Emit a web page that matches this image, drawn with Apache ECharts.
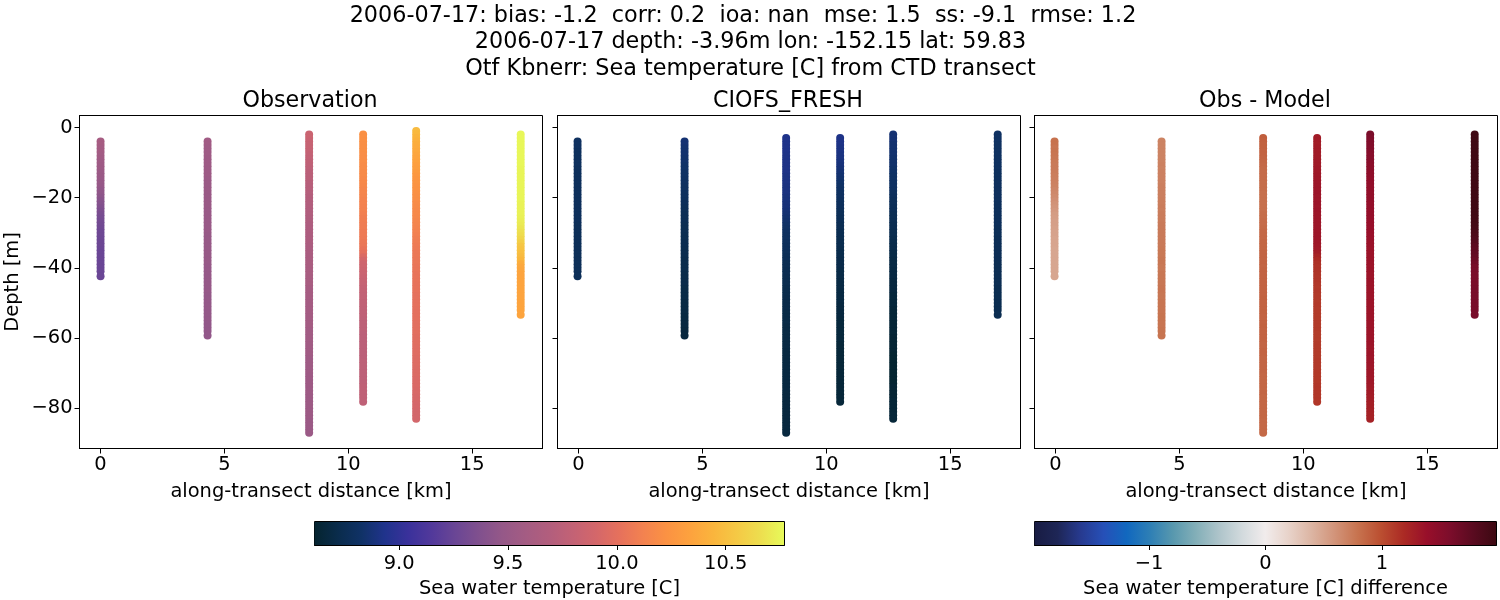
<!DOCTYPE html>
<html>
<head>
<meta charset="utf-8">
<title>CTD transect</title>
<script src="https://cdn.jsdelivr.net/npm/echarts@6/dist/echarts.min.js"></script>
<style>
  html, body { margin: 0; padding: 0; background: #fff; }
  #chart { width: 1500px; height: 600px; }
</style>
</head>
<body>
<div id="chart"></div>
<script>
// along-transect distance of each cast [km]
var obsKm = [0, 4.32, 8.42, 10.6, 12.74, 16.96];
var modelKm = [-0.04, 4.28, 8.38, 10.56, 12.7, 16.92];

// depth levels [m], one every metre
var depthLevels = [
  -1,-2,-3,-4,-5,-6,-7,-8,-9,-10,-11,-12,-13,-14,-15,-16,-17,-18,-19,-20,
  -21,-22,-23,-24,-25,-26,-27,-28,-29,-30,-31,-32,-33,-34,-35,-36,-37,-38,-39,-40,
  -41,-42,-43,-44,-45,-46,-47,-48,-49,-50,-51,-52,-53,-54,-55,-56,-57,-58,-59,-60,
  -61,-62,-63,-64,-65,-66,-67,-68,-69,-70,-71,-72,-73,-74,-75,-76,-77,-78,-79,-80,
  -81,-82,-83,-84,-85,-86,-87
];
// first level (1 = -1 m) of each cast
var obsTop = [4, 4, 2, 2, 1, 2];
var modelTop = [4, 4, 3, 3, 2, 2];
// the deepest sample of each cast is not on a whole metre
var castBottom = [-42.4, -59.3, -87, -78.2, -83, -53.4];

var obs0 = [
  9.60,9.60,9.58,9.58,9.57,9.56,9.55,9.54,9.53,9.52,
  9.51,9.50,9.49,9.48,9.46,9.45,9.43,9.41,9.39,9.37,
  9.35,9.33,9.32,9.31,9.30,9.29,9.28,9.28,9.27,9.27,
  9.27,9.26,9.26,9.26,9.26,9.26,9.26,9.26,9.26
];
var obs1 = [
  9.56,9.56,9.55,9.55,9.55,9.54,9.54,9.54,9.53,9.53,
  9.53,9.52,9.52,9.52,9.52,9.51,9.51,9.51,9.51,9.51,
  9.50,9.50,9.50,9.50,9.50,9.50,9.50,9.49,9.49,9.49,
  9.49,9.49,9.49,9.49,9.49,9.49,9.48,9.48,9.48,9.48,
  9.48,9.48,9.48,9.48,9.47,9.47,9.47,9.47,9.47,9.47,
  9.47,9.47,9.46,9.46,9.46,9.46
];
var obs2 = [
  9.84,9.84,9.83,9.82,9.82,9.81,9.80,9.79,9.78,9.77,
  9.76,9.75,9.74,9.74,9.73,9.72,9.72,9.71,9.70,9.70,
  9.69,9.69,9.68,9.68,9.67,9.67,9.66,9.66,9.66,9.65,
  9.65,9.65,9.64,9.64,9.64,9.63,9.63,9.63,9.62,9.62,
  9.62,9.61,9.61,9.61,9.60,9.60,9.60,9.60,9.59,9.59,
  9.59,9.59,9.58,9.58,9.58,9.58,9.57,9.57,9.57,9.57,
  9.56,9.56,9.56,9.56,9.55,9.55,9.55,9.55,9.55,9.54,
  9.54,9.54,9.54,9.54,9.54,9.53,9.53,9.53,9.53,9.53,
  9.53,9.53,9.52,9.52,9.52,9.52
];
var obs3 = [
  10.22,10.22,10.22,10.21,10.21,10.21,10.20,10.20,10.20,10.19,
  10.19,10.18,10.18,10.17,10.17,10.16,10.15,10.15,10.14,10.13,
  10.13,10.12,10.12,10.11,10.10,10.10,10.09,10.09,10.08,10.08,
  10.07,10.06,10.05,10.03,10.00,9.95,9.90,9.87,9.86,9.85,
  9.84,9.83,9.82,9.81,9.80,9.80,9.79,9.79,9.78,9.78,
  9.77,9.77,9.77,9.76,9.76,9.76,9.76,9.75,9.75,9.75,
  9.75,9.75,9.75,9.75,9.75,9.76,9.76,9.76,9.76,9.76,
  9.76,9.76,9.77,9.77,9.77,9.77,9.77
];
var obs4 = [
  10.48,10.46,10.44,10.42,10.40,10.39,10.38,10.36,10.35,10.34,
  10.32,10.31,10.29,10.27,10.26,10.25,10.24,10.23,10.22,10.21,
  10.20,10.19,10.18,10.17,10.17,10.16,10.15,10.14,10.13,10.12,
  10.11,10.10,10.09,10.08,10.07,10.06,10.06,10.05,10.05,10.04,
  10.04,10.03,10.03,10.03,10.02,10.02,10.02,10.01,10.01,10.01,
  10.01,10.00,10.00,10.00,10.00,9.99,9.99,9.99,9.99,9.98,
  9.98,9.98,9.97,9.97,9.97,9.96,9.96,9.96,9.95,9.95,
  9.95,9.94,9.94,9.94,9.93,9.93,9.92,9.92,9.91,9.91,
  9.90,9.90,9.90
];
var obs5 = [
  10.76,10.76,10.76,10.76,10.76,10.76,10.76,10.76,10.76,10.76,
  10.75,10.75,10.75,10.75,10.75,10.75,10.75,10.75,10.75,10.75,
  10.74,10.74,10.74,10.74,10.73,10.72,10.71,10.69,10.67,10.65,
  10.62,10.58,10.54,10.52,10.50,10.48,10.45,10.40,10.37,10.36,
  10.35,10.35,10.35,10.35,10.35,10.35,10.35,10.35,10.35,10.35,
  10.35,10.35
];

var model0 = [
  8.80,8.80,8.80,8.79,8.79,8.79,8.79,8.79,8.78,8.78,
  8.78,8.78,8.78,8.78,8.78,8.78,8.78,8.78,8.78,8.78,
  8.78,8.78,8.78,8.78,8.77,8.77,8.77,8.77,8.77,8.77,
  8.77,8.77,8.77,8.77,8.77,8.77,8.77,8.77,8.77
];
var model1 = [
  8.86,8.86,8.85,8.85,8.85,8.84,8.84,8.83,8.83,8.82,
  8.82,8.81,8.81,8.80,8.80,8.79,8.79,8.78,8.78,8.77,
  8.77,8.76,8.76,8.76,8.75,8.75,8.75,8.74,8.74,8.74,
  8.74,8.73,8.73,8.73,8.72,8.72,8.72,8.72,8.71,8.71,
  8.71,8.71,8.70,8.70,8.70,8.70,8.69,8.69,8.69,8.69,
  8.68,8.68,8.68,8.68,8.67,8.67
];
var model2 = [
  8.93,8.93,8.93,8.93,8.93,8.92,8.92,8.92,8.92,8.92,
  8.92,8.91,8.91,8.91,8.90,8.90,8.90,8.89,8.89,8.88,
  8.88,8.87,8.86,8.85,8.84,8.83,8.82,8.81,8.80,8.80,
  8.79,8.78,8.78,8.77,8.76,8.76,8.75,8.75,8.74,8.74,
  8.73,8.73,8.73,8.72,8.72,8.72,8.71,8.71,8.71,8.71,
  8.70,8.70,8.70,8.70,8.69,8.69,8.69,8.69,8.69,8.69,
  8.69,8.68,8.68,8.68,8.68,8.68,8.68,8.68,8.68,8.68,
  8.68,8.68,8.68,8.67,8.67,8.67,8.67,8.67,8.67,8.67,
  8.67,8.67,8.67,8.67,8.67
];
var model3 = [
  8.92,8.92,8.92,8.91,8.91,8.90,8.90,8.89,8.88,8.87,
  8.86,8.85,8.84,8.83,8.82,8.81,8.80,8.80,8.79,8.78,
  8.78,8.77,8.77,8.76,8.76,8.75,8.75,8.74,8.74,8.73,
  8.73,8.73,8.72,8.72,8.72,8.71,8.71,8.71,8.70,8.70,
  8.70,8.69,8.69,8.69,8.68,8.68,8.68,8.68,8.67,8.67,
  8.67,8.67,8.66,8.66,8.66,8.66,8.66,8.66,8.66,8.65,
  8.65,8.65,8.65,8.65,8.65,8.65,8.65,8.65,8.65,8.65,
  8.65,8.65,8.65,8.65,8.65,8.65
];
var model4 = [
  8.86,8.86,8.86,8.85,8.85,8.85,8.85,8.84,8.84,8.84,
  8.83,8.83,8.82,8.82,8.81,8.81,8.80,8.79,8.78,8.77,
  8.77,8.76,8.76,8.75,8.75,8.75,8.74,8.74,8.73,8.73,
  8.72,8.72,8.71,8.71,8.70,8.70,8.69,8.69,8.69,8.68,
  8.68,8.68,8.67,8.67,8.67,8.67,8.66,8.66,8.66,8.66,
  8.65,8.65,8.65,8.65,8.64,8.64,8.64,8.64,8.63,8.63,
  8.63,8.63,8.63,8.62,8.62,8.62,8.62,8.62,8.62,8.62,
  8.62,8.62,8.63,8.63,8.63,8.63,8.64,8.64,8.64,8.64,
  8.65,8.65
];
var model5 = [
  8.81,8.81,8.81,8.80,8.80,8.80,8.80,8.80,8.80,8.80,
  8.80,8.79,8.79,8.79,8.79,8.79,8.79,8.79,8.79,8.79,
  8.78,8.78,8.78,8.78,8.78,8.78,8.78,8.77,8.77,8.77,
  8.76,8.76,8.76,8.76,8.76,8.76,8.76,8.75,8.75,8.75,
  8.75,8.75,8.75,8.75,8.74,8.74,8.74,8.74,8.74,8.74,
  8.74,8.74
];

var obsCasts = [obs0, obs1, obs2, obs3, obs4, obs5];
var modelCasts = [model0, model1, model2, model3, model4, model5];

var xTicks = [0, 5, 10, 15];
var yTicks = [0, -20, -40, -60, -80];
var tempTicks = [9.0, 9.5, 10.0, 10.5];
var diffTicks = [-1, 0, 1];

var panelTitles = ['Observation', 'CIOFS_FRESH', 'Obs - Model'];
var headLines = [
  '2006-07-17: bias: -1.2  corr: 0.2  ioa: nan  mse: 1.5  ss: -9.1  rmse: 1.2',
  '2006-07-17 depth: -3.96m lon: -152.15 lat: 59.83',
  'Otf Kbnerr: Sea temperature [C] from CTD transect'
];

var tempRange = [8.611, 10.77];
var diffRange = [-1.985, 1.985];

// sampled from the two colorbars, evenly spaced
var thermalColors = [
  '#05242f','#0a2c4c','#103266','#20338c','#3a319b','#52399b','#6a4695','#80508e','#955888','#a45c83','#b25e7d',
  '#c36275','#d4676a','#e6715c','#f38250','#fb9243','#fda23e','#fab53d','#f5c945','#edde4f','#e7fa5a'
];
var balanceColors = [
  '#181c43','#1e2656','#273a8f','#2650b8','#1168bf','#2e7fb5','#5898ae','#83afb8','#aec4ca','#d2dadd','#f1ecec',
  '#e8d3ca','#dcb5a3','#d2947a','#c7734f','#bb4f31','#ab2a24','#980f2a','#7c0d2b','#5a0b20','#3c0912'
];

var FONT = '"DejaVu Sans"';
var panelLeft = [79.5, 557.5, 1034.5];

function minusSign(v){ return String(v).replace('-', '\u2212'); }

function levelOf(tops, s, i, count){
  return i === count-1 ? castBottom[s] : depthLevels[tops[s]-1+i];
}

function tempPoints(km, casts, tops){
  var pts = [];
  for(var s=0;s<casts.length;s++){
    for(var i=0;i<casts[s].length;i++){
      pts.push([km[s], levelOf(tops, s, i, casts[s].length), casts[s][i]]);
    }
  }
  return pts;
}

// obs minus model, on the model levels
function diffPoints(){
  var pts = [];
  for(var s=0;s<modelCasts.length;s++){
    var shift = modelTop[s]-obsTop[s];
    for(var i=0;i<modelCasts[s].length;i++){
      pts.push([modelKm[s], levelOf(modelTop, s, i, modelCasts[s].length), obsCasts[s][i+shift]-modelCasts[s][i]]);
    }
  }
  return pts;
}

function gradientBar(colors){
  return function(params, api){
    var a = api.coord([api.value(0), 0]);
    var b = api.coord([api.value(1), 1]);
    var stops = colors.map(function(c, i){ return { offset: i/(colors.length-1), color: c }; });
    // leave the top and right border of the grid visible
    return {
      type: 'rect',
      shape: { x: a[0], y: b[1]+0.5, width: b[0]-a[0]-0.5, height: a[1]-b[1]-0.5 },
      style: { fill: new echarts.graphic.LinearGradient(0, 0, 1, 0, stops) }
    };
  };
}

function valueAxis(ticks, min, max, fmt, showLabel, margin){
  return {
    type: 'value', min: min, max: max,
    splitLine: { show: false },
    axisLine: { show: true, onZero: false, lineStyle: { color: '#000', width: 1 } },
    axisTick: { show: true, length: 5, customValues: ticks, lineStyle: { color: '#000', width: 1 } },
    axisLabel: { show: showLabel, customValues: ticks, formatter: fmt, color: '#000', fontFamily: FONT, fontSize: 19.44, margin: margin }
  };
}

var grids = [], xAxes = [], yAxes = [], series = [], titles = [];

for(var p=0;p<3;p++){
  grids.push({ left: panelLeft[p], top: 115.5, width: 463, height: 333, show: true, borderColor: '#000', borderWidth: 1, backgroundColor: '#fff' });
  var xa = valueAxis(xTicks, -0.85, 17.84, minusSign, true, 7);
  xa.gridIndex = p;
  xa.name = 'along-transect distance [km]';
  xa.nameLocation = 'middle';
  xa.nameGap = 33.5;
  xa.nameTextStyle = { color: '#000', fontFamily: FONT, fontSize: 19.44 };
  xAxes.push(xa);
  var ya = valueAxis(yTicks, -91.5, 3.44, minusSign, p===0, 7);
  ya.gridIndex = p;
  if(p===0){
    ya.name = 'Depth [m]';
    ya.nameLocation = 'middle';
    ya.nameGap = 57;
    ya.nameTextStyle = { color: '#000', fontFamily: FONT, fontSize: 19.44 };
  }
  yAxes.push(ya);
  titles.push({ text: panelTitles[p], left: panelLeft[p]+225.5, top: 85.5, textAlign: 'center',
    textStyle: { color: '#000', fontFamily: FONT, fontSize: 22.2, fontWeight: 'normal' } });
}

var headTop = [0.5, 26.5, 53.5];
var headLeft = [738, 745.5, 745.5];
for(var h=0;h<headLines.length;h++){
  titles.push({ text: headLines[h], left: headLeft[h], top: headTop[h], textAlign: 'center',
    textStyle: { color: '#000', fontFamily: FONT, fontSize: 22.3, fontWeight: 'normal' } });
}

var panelData = [tempPoints(obsKm, obsCasts, obsTop), tempPoints(modelKm, modelCasts, modelTop), diffPoints()];
for(var q=0;q<3;q++){
  series.push({
    type: 'scatter', xAxisIndex: q, yAxisIndex: q,
    data: panelData[q], symbol: 'circle', symbolSize: 8,
    itemStyle: { opacity: 1 }, silent: true, animation: false
  });
}

// colorbars are their own little grids so the ticks come off a real axis
var bars = [
  { left: 314.5, width: 470, range: tempRange, ticks: tempTicks, colors: thermalColors, name: 'Sea water temperature [C]' },
  { left: 1034.5, width: 462, range: diffRange, ticks: diffTicks, colors: balanceColors, name: 'Sea water temperature [C] difference' }
];
bars.forEach(function(b, i){
  var gi = 3+i;
  grids.push({ left: b.left, top: 521.5, width: b.width, height: 23.5, show: true, borderColor: '#000', borderWidth: 1 });
  var bx = valueAxis(b.ticks, b.range[0], b.range[1], function(v){
    return i===0 ? Number(v).toFixed(1) : minusSign(v);
  }, true, 9);
  bx.gridIndex = gi;
  bx.name = b.name;
  bx.nameLocation = 'middle';
  bx.nameGap = 34;
  bx.nameTextStyle = { color: '#000', fontFamily: FONT, fontSize: 19.44 };
  xAxes.push(bx);
  yAxes.push({ gridIndex: gi, type: 'value', min: 0, max: 1, show: false });
  series.push({
    type: 'custom', xAxisIndex: gi, yAxisIndex: gi, silent: true,
    data: [[b.range[0], b.range[1]]],
    renderItem: gradientBar(b.colors),
    encode: { x: [0, 1] }, z: 1
  });
});

var chart = echarts.init(document.getElementById('chart'));
chart.setOption({
  backgroundColor: '#fff',
  animation: false,
  title: titles,
  grid: grids,
  xAxis: xAxes,
  yAxis: yAxes,
  visualMap: [
    { show: false, type: 'continuous', seriesIndex: [0, 1], dimension: 2, min: tempRange[0], max: tempRange[1], inRange: { color: thermalColors } },
    { show: false, type: 'continuous', seriesIndex: [2], dimension: 2, min: diffRange[0], max: diffRange[1], inRange: { color: balanceColors } }
  ],
  series: series
});
</script>
</body>
</html>
